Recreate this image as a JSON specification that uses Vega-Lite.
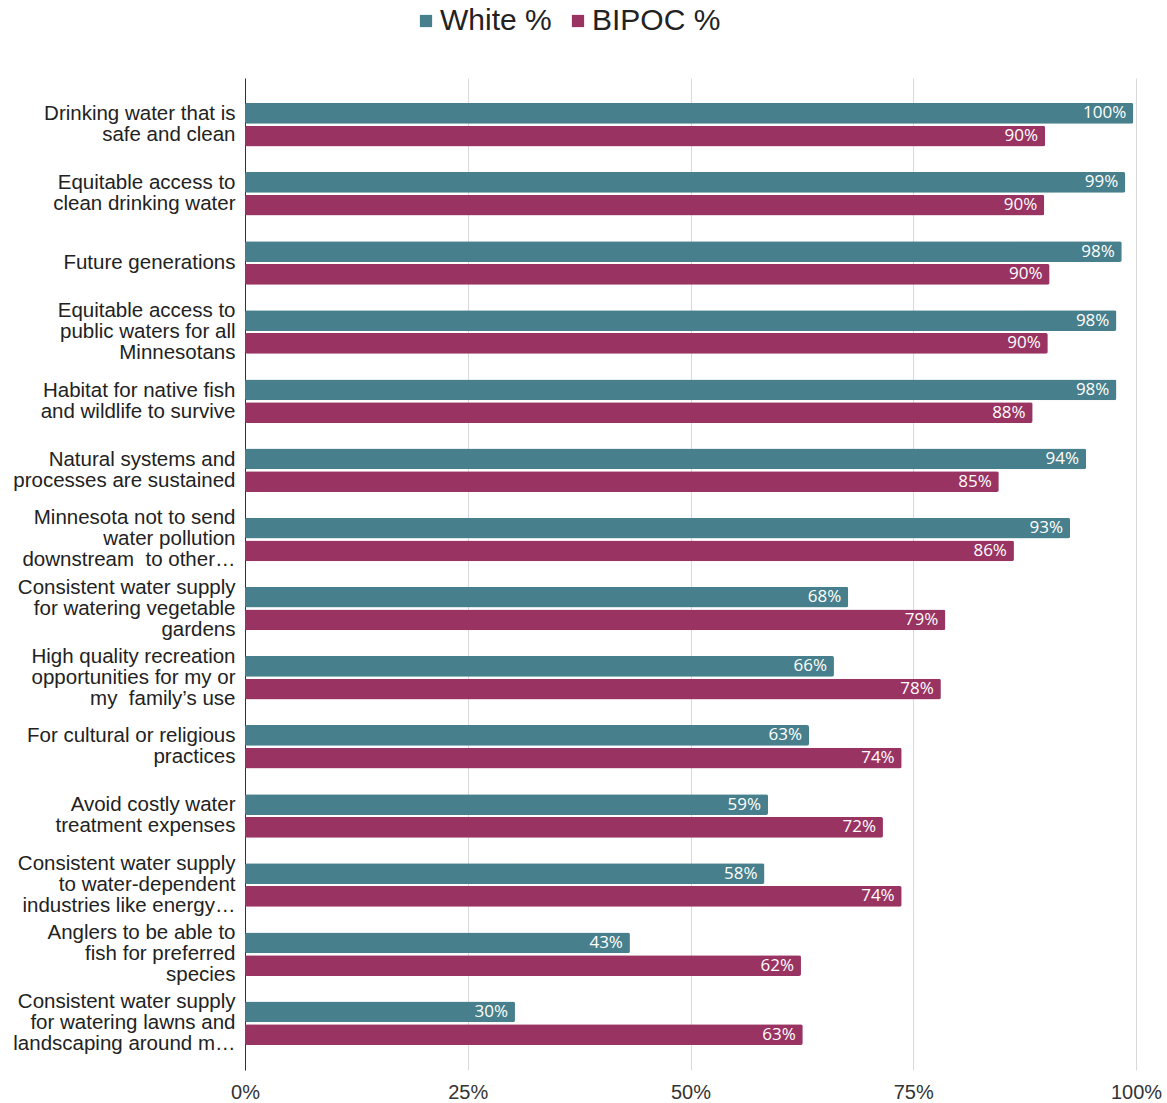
{
  "$schema": "https://vega.github.io/schema/vega-lite/v6.json",
  "width": 891,
  "height": 992,
  "autosize": {"type": "none"},
  "padding": {"left": 245, "top": 78, "right": 31, "bottom": 33},
  "background": "#ffffff",
  "config": {"view": {"stroke": null}},
  "data": {
    "values": [
      {"cat": "Drinking water that is|safe and clean", "group": "White %", "value": 0.997},
      {"cat": "Drinking water that is|safe and clean", "group": "BIPOC %", "value": 0.898},
      {"cat": "Equitable access to|clean drinking water", "group": "White %", "value": 0.988},
      {"cat": "Equitable access to|clean drinking water", "group": "BIPOC %", "value": 0.897},
      {"cat": "Future generations", "group": "White %", "value": 0.984},
      {"cat": "Future generations", "group": "BIPOC %", "value": 0.903},
      {"cat": "Equitable access to|public waters for all|Minnesotans", "group": "White %", "value": 0.978},
      {"cat": "Equitable access to|public waters for all|Minnesotans", "group": "BIPOC %", "value": 0.901},
      {"cat": "Habitat for native fish|and wildlife to survive", "group": "White %", "value": 0.978},
      {"cat": "Habitat for native fish|and wildlife to survive", "group": "BIPOC %", "value": 0.884},
      {"cat": "Natural systems and|processes are sustained", "group": "White %", "value": 0.944},
      {"cat": "Natural systems and|processes are sustained", "group": "BIPOC %", "value": 0.846},
      {"cat": "Minnesota not to send|water pollution|downstream\u00a0 to other…", "group": "White %", "value": 0.926},
      {"cat": "Minnesota not to send|water pollution|downstream\u00a0 to other…", "group": "BIPOC %", "value": 0.863},
      {"cat": "Consistent water supply|for watering vegetable|gardens", "group": "White %", "value": 0.677},
      {"cat": "Consistent water supply|for watering vegetable|gardens", "group": "BIPOC %", "value": 0.786},
      {"cat": "High quality recreation|opportunities for my or|my\u00a0 family’s use", "group": "White %", "value": 0.661},
      {"cat": "High quality recreation|opportunities for my or|my\u00a0 family’s use", "group": "BIPOC %", "value": 0.781},
      {"cat": "For cultural or religious|practices", "group": "White %", "value": 0.633},
      {"cat": "For cultural or religious|practices", "group": "BIPOC %", "value": 0.737},
      {"cat": "Avoid costly water|treatment expenses", "group": "White %", "value": 0.587},
      {"cat": "Avoid costly water|treatment expenses", "group": "BIPOC %", "value": 0.716},
      {"cat": "Consistent water supply|to water-dependent|industries like energy…", "group": "White %", "value": 0.583},
      {"cat": "Consistent water supply|to water-dependent|industries like energy…", "group": "BIPOC %", "value": 0.737},
      {"cat": "Anglers to be able to|fish for preferred|species", "group": "White %", "value": 0.432},
      {"cat": "Anglers to be able to|fish for preferred|species", "group": "BIPOC %", "value": 0.624},
      {"cat": "Consistent water supply|for watering lawns and|landscaping around m…", "group": "White %", "value": 0.303},
      {"cat": "Consistent water supply|for watering lawns and|landscaping around m…", "group": "BIPOC %", "value": 0.626}
    ]
  },
  "encoding": {
    "y": {
      "field": "cat",
      "type": "nominal",
      "sort": null,
      "scale": {"paddingInner": 0.37, "paddingOuter": 0.36},
      "axis": {
        "title": null,
        "labelExpr": "split(datum.label, '|')",
        "labelFont": "Liberation Sans",
        "labelFontSize": 20.5,
        "labelLineHeight": 21,
        "labelColor": "#222222",
        "labelPadding": 10,
        "labelLimit": 320,
        "labelOffset": {
          "condition": [
            {"test": "length(split(datum.value, '|')) == 3", "value": -21},
            {"test": "length(split(datum.value, '|')) == 2", "value": -10.5}
          ],
          "value": 0
        },
        "ticks": false,
        "domainColor": "#333333",
        "domainWidth": 1
      }
    },
    "yOffset": {
      "field": "group",
      "type": "nominal",
      "sort": ["White %", "BIPOC %"],
      "scale": {"paddingInner": 0.09, "paddingOuter": 0}
    },
    "x": {
      "field": "value",
      "type": "quantitative",
      "scale": {"domain": [0, 1], "nice": false},
      "axis": {
        "title": null,
        "format": ".0%",
        "values": [0, 0.25, 0.5, 0.75, 1],
        "grid": true,
        "gridColor": "#d9d9d9",
        "gridWidth": 1,
        "domain": false,
        "ticks": false,
        "labelFlush": false,
        "labelFont": "Liberation Sans",
        "labelFontSize": 20,
        "labelColor": "#333333",
        "labelPadding": 12
      }
    }
  },
  "layer": [
    {
      "mark": {"type": "bar", "cornerRadius": 2},
      "encoding": {
        "color": {
          "field": "group",
          "type": "nominal",
          "sort": ["White %", "BIPOC %"],
          "scale": {"domain": ["White %", "BIPOC %"], "range": ["#47808C", "#993361"]},
          "legend": {
            "title": null,
            "orient": "none",
            "legendX": 166,
            "legendY": -72,
            "direction": "horizontal",
            "symbolType": "square",
            "symbolSize": 150,
            "symbolStrokeWidth": 0,
            "labelFont": "Liberation Sans",
            "labelFontSize": 30,
            "labelColor": "#222222",
            "labelOffset": -1,
            "columnPadding": 11,
            "padding": 0
          }
        }
      }
    },
    {
      "mark": {
        "type": "text",
        "align": "right",
        "baseline": "middle",
        "dx": -7,
        "font": "Open Sans",
        "fontSize": 17,
        "color": "#ffffff"
      },
      "encoding": {
        "text": {"field": "value", "type": "quantitative", "format": ".0%"}
      }
    }
  ]
}
